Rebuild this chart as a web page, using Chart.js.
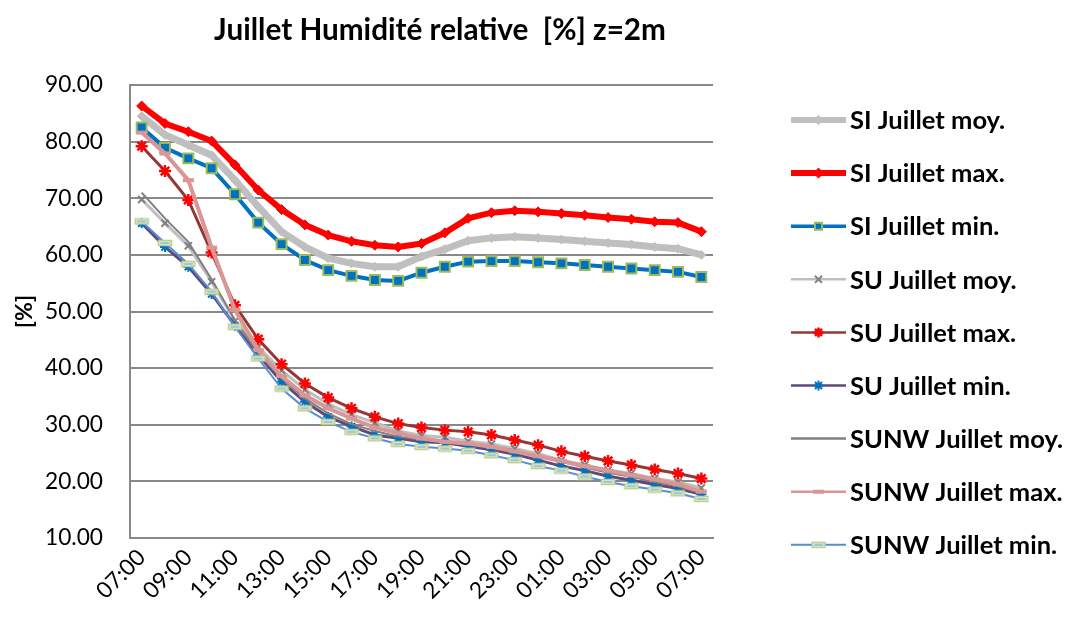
<!DOCTYPE html>
<html>
<head>
<meta charset="utf-8">
<script src="https://cdn.jsdelivr.net/npm/chart.js@4.4.1/dist/chart.umd.min.js"></script>
<style>
html,body{margin:0;padding:0;background:#fff;}
#wrap{width:1067px;height:617px;position:relative;}
</style>
</head>
<body>
<div id="wrap"><canvas id="c" width="1067" height="617"></canvas></div>
<script>
const FONT = "Lato, 'Open Sans', sans-serif";
const chartTitle = 'Juillet Humidité relative  [%] z=2m';
const yAxisTitle = '[%]';
const hours = ['07:00','08:00','09:00','10:00','11:00','12:00','13:00','14:00','15:00','16:00','17:00','18:00',
  '19:00','20:00','21:00','22:00','23:00','00:00','01:00','02:00','03:00','04:00','05:00','06:00','07:00'];
const seriesNames = ['SI Juillet moy.','SI Juillet max.','SI Juillet min.','SU Juillet moy.','SU Juillet max.',
  'SU Juillet min.','SUNW Juillet moy.','SUNW Juillet max.','SUNW Juillet min.'];

const siMoy = [84.5,81.2,79.4,77.6,73.2,68.5,64.1,61.4,59.4,58.5,57.9,57.9,59.7,61.0,62.5,63.0,63.2,63.0,62.7,62.4,62.1,61.85,61.4,61.1,60.0];
const siMax = [86.3,83.2,81.75,80.1,75.9,71.45,68.0,65.3,63.5,62.4,61.7,61.4,62.0,63.9,66.45,67.45,67.8,67.6,67.3,67.0,66.6,66.3,65.85,65.7,64.1];
const siMin = [82.5,78.9,77.05,75.3,70.7,65.7,61.9,59.1,57.3,56.3,55.55,55.4,56.85,57.9,58.8,58.9,58.9,58.7,58.5,58.2,57.9,57.6,57.3,57.0,56.1];
const suMoy = [69.8,65.6,61.6,55.25,48.3,43.7,39.6,36.2,33.7,31.8,30.35,28.9,28.1,27.8,27.1,26.6,25.8,24.9,23.75,22.9,22.0,21.4,20.5,19.9,18.85];
const suMax = [79.2,74.8,69.7,60.4,51.1,45.1,40.7,37.3,34.8,32.9,31.4,30.2,29.5,29.05,28.75,28.2,27.3,26.4,25.3,24.45,23.6,22.9,22.1,21.4,20.5];
const suMin = [65.6,61.4,57.9,53.1,47.5,42.3,37.6,34.05,31.4,29.7,28.2,27.6,27.0,26.8,26.2,25.6,24.8,23.75,22.7,21.9,20.9,20.2,19.45,18.75,17.7];
const sunwMoy = [71.0,66.45,62.3,55.7,48.5,42.6,38.2,34.65,32.0,30.1,28.9,27.9,27.3,27.1,26.7,26.2,25.5,24.45,23.45,22.45,21.5,20.8,19.9,19.15,17.9];
const sunwMax = [81.6,77.9,73.2,61.3,50.3,43.2,38.6,35.2,32.9,31.1,29.5,28.5,27.6,27.0,26.7,26.1,25.3,24.45,23.6,22.7,21.9,21.1,20.35,19.5,18.2];
const sunwMin = [65.9,62.1,58.4,53.5,47.3,41.7,36.4,32.9,30.5,28.75,27.6,26.6,26.1,25.8,25.4,24.6,23.75,22.7,21.9,20.85,19.9,19.15,18.55,17.9,16.9];

// font size fitting to reference text widths
const mctx = document.createElement('canvas').getContext('2d');
function fitSize(text, weight, target) {
  mctx.font = weight + ' 100px ' + FONT;
  return 100 * target / mctx.measureText(text).width;
}
const titleSize = fitSize(chartTitle, 'bold', 452);
const legendSize = fitSize('SUNW Juillet moy.', 'bold', 213);
const tickSize = fitSize('90.00', 'normal', 58);
const yTitleSize = 23;

function rectMarker(w, h, fill, stroke, lw, inner) {
  const c = document.createElement('canvas');
  c.width = w + lw * 2; c.height = h + lw * 2;
  const g = c.getContext('2d');
  g.fillStyle = fill; g.fillRect(lw, lw, w, h);
  if (stroke) { g.strokeStyle = stroke; g.lineWidth = lw; g.strokeRect(lw, lw, w, h); }
  if (inner) { g.strokeStyle = inner; g.lineWidth = 1.5; g.beginPath(); g.moveTo(lw + 2, c.height / 2); g.lineTo(c.width - lw - 2, c.height / 2); g.stroke(); }
  return c;
}
const pinkDash = rectMarker(11, 4, '#D99694', null, 1);
const greenDash = rectMarker(13, 5, '#E2ECCF', '#B9CF8E', 1.5, '#8EB4E3');

const styles = [
  {data: siMoy, color: '#BFBFBF', width: 7, ps: 'rectRot', pr: 4.5, pbg: '#BFBFBF', pbc: '#BFBFBF', pbw: 1, lw: 6},
  {data: siMax, color: '#FF0000', width: 6, ps: 'rectRot', pr: 5, pbg: '#FF0000', pbc: '#FF0000', pbw: 1, lw: 6},
  {data: siMin, color: '#0070C0', width: 4, ps: 'rect', pr: 7, pbg: '#0070C0', pbc: '#9BBB59', pbw: 2, lw: 3.5},
  {data: suMoy, color: '#BFBFBF', width: 3, ps: 'crossRot', pr: 5, pbg: '#7F7F7F', pbc: '#7F7F7F', pbw: 2, lw: 2.5},
  {data: suMax, color: '#953735', width: 3, ps: 'star', pr: 6, pbg: '#FF0000', pbc: '#FF0000', pbw: 2.5, lw: 2.5},
  {data: suMin, color: '#604A7B', width: 3, ps: 'star', pr: 5, pbg: '#0070C0', pbc: '#0070C0', pbw: 2, lw: 2.5},
  {data: sunwMoy, color: '#7F7F7F', width: 2, ps: 'circle', pr: 0, pbg: '#7F7F7F', pbc: '#7F7F7F', pbw: 0, lw: 2.5},
  {data: sunwMax, color: '#D99694', width: 4, ps: pinkDash, pr: 4, pbg: '#D99694', pbc: '#D99694', pbw: 0, lw: 2.5},
  {data: sunwMin, color: '#558ED5', width: 2, ps: greenDash, pr: 4, pbg: '#E2ECCF', pbc: '#B9CF8E', pbw: 0, lw: 2}
];

const datasets = styles.map((s, i) => ({
  label: seriesNames[i],
  data: s.data,
  borderColor: s.color,
  backgroundColor: s.color,
  borderWidth: s.width,
  pointStyle: s.ps,
  pointRadius: s.pr,
  pointBackgroundColor: s.pbg,
  pointBorderColor: s.pbc,
  pointBorderWidth: s.pbw,
  pointHoverRadius: s.pr,
  tension: 0,
  fill: false,
  order: styles.length - i
}));

const titlePlugin = {
  id: 'excelTitle',
  afterDraw(chart) {
    const ctx = chart.ctx;
    ctx.save();
    ctx.font = 'bold ' + titleSize + 'px ' + FONT;
    ctx.fillStyle = '#000';
    ctx.textAlign = 'center';
    ctx.textBaseline = 'middle';
    ctx.fillText(chartTitle, 440, 30);
    ctx.restore();
  }
};

const legendPlugin = {
  id: 'excelLegend',
  afterDraw(chart) {
    const ctx = chart.ctx;
    ctx.save();
    styles.forEach((s, i) => {
      const y = 120 + 53.1 * i;
      ctx.strokeStyle = s.color;
      ctx.lineWidth = s.lw;
      ctx.lineCap = 'butt';
      ctx.beginPath(); ctx.moveTo(791, y); ctx.lineTo(846, y); ctx.stroke();
      if (s.pr > 0 && Chart.helpers && Chart.helpers.drawPoint) {
        ctx.fillStyle = s.pbg; ctx.strokeStyle = s.pbc; ctx.lineWidth = s.pbw;
        Chart.helpers.drawPoint(ctx, {pointStyle: s.ps, radius: Math.min(s.pr, 5), borderWidth: s.pbw, rotation: 0}, 818.5, y);
      }
      ctx.fillStyle = '#000';
      ctx.font = 'bold ' + legendSize + 'px ' + FONT;
      ctx.textAlign = 'left';
      ctx.textBaseline = 'middle';
      ctx.fillText(seriesNames[i], 850, y + 1);
    });
    ctx.restore();
  }
};

new Chart(document.getElementById('c'), {
  type: 'line',
  data: {labels: hours, datasets: datasets},
  options: {
    responsive: false,
    animation: false,
    devicePixelRatio: 1,
    layout: {padding: {top: 85, right: 354, bottom: 0, left: 0}},
    plugins: {legend: {display: false}, title: {display: false}, tooltip: {enabled: false}},
    scales: {
      x: {
        type: 'category',
        offset: true,
        grid: {display: false, drawTicks: false},
        border: {display: true, color: '#898989', width: 2},
        ticks: {
          autoSkip: false, minRotation: 45, maxRotation: 45, padding: 6, color: '#000',
          font: {family: FONT, size: tickSize},
          callback: function(v, idx) { return idx % 2 === 0 ? hours[idx] : ''; }
        },
        afterFit(scale) { scale.height = 79; }
      },
      y: {
        min: 10, max: 90,
        grid: {color: '#898989', lineWidth: 2, drawTicks: false},
        border: {display: true, color: '#898989', width: 2},
        ticks: {stepSize: 10, padding: 27, color: '#000', font: {family: FONT, size: tickSize},
          callback: v => v.toFixed(2)},
        title: {display: true, text: yAxisTitle, color: '#000', font: {family: FONT, size: yTitleSize, weight: 'bold'}, padding: {top: 11, bottom: 0}},
        afterFit(scale) { scale.width = 130; }
      }
    }
  },
  plugins: [titlePlugin, legendPlugin]
});
</script>
</body>
</html>
